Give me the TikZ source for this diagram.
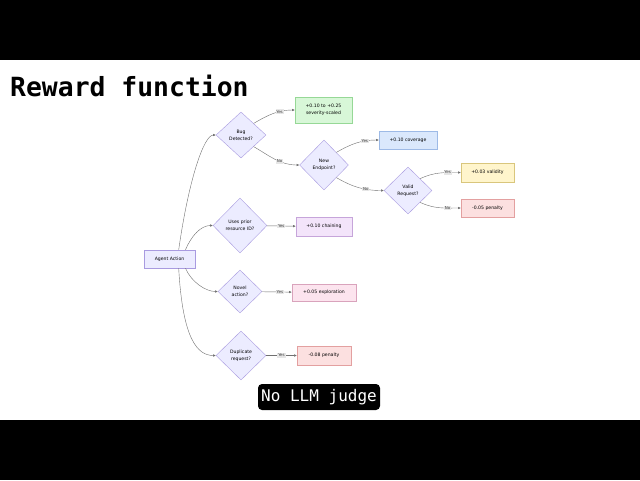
\documentclass[tikz,border=0pt]{standalone}
\usepackage{fontspec}
\setmainfont{DejaVu Sans}
\newfontfamily\titlefont{DejaVu Sans Mono}
\usepackage{tikz}
\usetikzlibrary{shapes.geometric}
\usetikzlibrary{arrows.meta}

\newcommand{\diagsize}{\fontsize{4.6}{7}\selectfont}

\begin{document}
\begin{tikzpicture}[x=1pt, y=1pt,
        decision/.style={diamond, draw=checkline, fill=checkfill, line width=0.4pt, align=center, inner sep=0pt, font=\diagsize},
        outcome/.style={rectangle, line width=0.4pt, align=center, minimum height=18pt, inner sep=1pt, font=\diagsize},
        branch/.style={draw=edgegray, line width=0.4pt, -{Latex[length=2.6pt,width=2.4pt]}},
        answer/.style={fill=lblgray, inner sep=0.8pt, text=black!75, font=\fontsize{4}{4.5}\selectfont}]
        % Define the colors
        \definecolor{checkfill}{HTML}{ECECFF}
        \definecolor{checkline}{HTML}{A99BE0}
        \definecolor{edgegray}{HTML}{707070}
        \definecolor{lblgray}{HTML}{E6E6E6}
        \definecolor{greenfill}{HTML}{D8F7D8}
        \definecolor{greenline}{HTML}{96D896}
        \definecolor{bluefill}{HTML}{DAE8FC}
        \definecolor{blueline}{HTML}{9DBAE6}
        \definecolor{yellowfill}{HTML}{FFF5CC}
        \definecolor{yellowline}{HTML}{D9C67C}
        \definecolor{redfill}{HTML}{FCE0E0}
        \definecolor{redline}{HTML}{E3A0A0}
        \definecolor{purplefill}{HTML}{F3E4FA}
        \definecolor{purpleline}{HTML}{C6A5DA}
        \definecolor{pinkfill}{HTML}{FCE4EE}
        \definecolor{pinkline}{HTML}{D9A3BC}

        % Page and the two black bars
        \useasboundingbox (0,0) rectangle (640,-480);
        \fill[white] (0,0) rectangle (640,-480);
        \fill[black] (0,0) rectangle (640,-60);
        \fill[black] (0,-420) rectangle (640,-480);

        % Title and caption
        \node[anchor=base west, inner sep=0pt, font=\titlefont\bfseries\fontsize{26.4}{30}\selectfont] (title) at (10,-96) {Reward function};
        \node[fill=black, text=white, rounded corners=4pt, minimum width=122pt, minimum height=26pt, inner sep=0pt, font=\titlefont\fontsize{16}{18}\selectfont] (judge) at (319,-397) {No LLM judge};

        % Start box
        \node[outcome, draw=checkline, fill=checkfill, minimum width=51pt] (agent) at (169.5,-259) {Agent Action};

        % Draw the checks
        \node[decision, minimum width=50pt, minimum height=46pt] (bug) at (241,-135) {Bug\\Detected?};
        \node[decision, minimum width=49pt, minimum height=50pt] (newep) at (324,-165) {New\\Endpoint?};
        \node[decision, minimum width=48pt, minimum height=47pt] (valid) at (408,-190.5) {Valid\\Request?};
        \node[decision, minimum width=54pt, minimum height=55pt] (uses) at (240,-225.5) {Uses prior\\resource ID?};
        \node[decision, minimum width=44pt, minimum height=43pt] (novel) at (240,-291.5) {Novel\\action?};
        \node[decision, minimum width=50pt, minimum height=49pt] (dup) at (241,-355.5) {Duplicate\\request?};

        % Draw the rewards
        \node[outcome, draw=greenline, fill=greenfill, minimum width=57pt, minimum height=26pt] (bugyes) at (323.5,-110) {+0.10 to +0.25\\severity-scaled};
        \node[outcome, draw=blueline, fill=bluefill, minimum width=58pt] (newepyes) at (408,-140) {+0.10 coverage};
        \node[outcome, draw=yellowline, fill=yellowfill, minimum width=53pt, minimum height=19pt] (validyes) at (487.5,-172.5) {+0.03 validity};
        \node[outcome, draw=redline, fill=redfill, minimum width=53pt] (validno) at (487.5,-208) {-0.05 penalty};
        \node[outcome, draw=purpleline, fill=purplefill, minimum width=56pt, minimum height=19pt] (usesyes) at (324,-226.5) {+0.10 chaining};
        \node[outcome, draw=pinkline, fill=pinkfill, minimum width=64pt, minimum height=17pt] (novelyes) at (324,-292.5) {+0.05 exploration};
        \node[outcome, draw=redline, fill=redfill, minimum width=54pt, minimum height=19pt] (dupyes) at (324,-355.5) {-0.08 penalty};

        % Draw the arrows from Agent Action to each check
        \draw[branch] (agent.45) .. controls +(10,70) and +(-12,0) .. (bug.west);
        \draw[branch] (agent.30) .. controls +(6,14) and +(-12,0) .. (uses.west);
        \draw[branch] (agent.-30) .. controls +(6,-14) and +(-12,0) .. (novel.west);
        \draw[branch] (agent.-45) .. controls +(4,-72) and +(-18,0) .. (dup.west);

        % Draw the arrows out of the bug chain
        \draw[branch] (bug.north east) to[out=30,in=180] node[answer,pos=0.66] {Yes} (bugyes.west);
        \draw[branch] (bug.south east) to[out=-30,in=180] node[answer,pos=0.6] {No} (newep.west);
        \draw[branch] (newep.north east) to[out=30,in=180] node[answer,pos=0.7] {Yes} (newepyes.west);
        \draw[branch] (newep.south east) to[out=-30,in=180] node[answer,pos=0.65] {No} (valid.west);
        \draw[branch] (valid.north east) to[out=25,in=180] node[answer,pos=0.7] {Yes} (validyes.west);
        \draw[branch] (valid.south east) to[out=-25,in=180] node[answer,pos=0.7] {No} (validno.west);

        % Draw the straight arrows
        \draw[branch] (uses) -- node[answer] {Yes} (usesyes);
        \draw[branch] (novel) -- node[answer,pos=0.6] {Yes} (novelyes);
        \draw[branch] (dup) -- node[answer] {Yes} (dupyes);
\end{tikzpicture}
\end{document}
